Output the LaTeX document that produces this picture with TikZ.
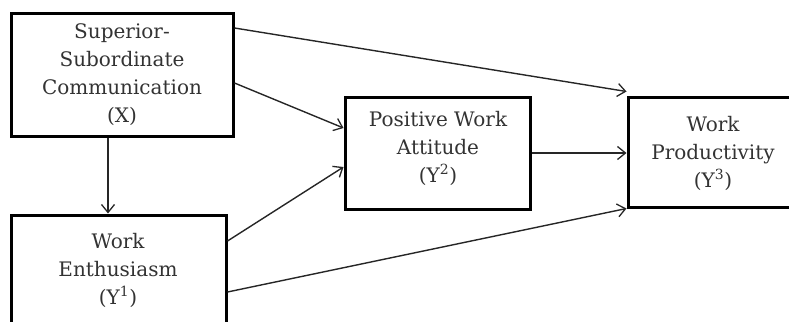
\documentclass[tikz,border=0pt]{standalone}
\usepackage{fontspec}
\setmainfont{DejaVu Serif}
\usetikzlibrary{arrows.meta}
\begin{document}
\begin{tikzpicture}[x=1pt,y=-1pt,
  box/.style={draw=black,line width=3pt,rectangle,inner sep=0pt},
  lbl/.style={align=center,text=black!80,font=\fontsize{20}{28}\selectfont,inner sep=0pt},
  conn/.style={draw=black!85,line width=1.4pt,-{Straight Barb[length=8pt,width=13pt,line width=1.3pt]}}]
\useasboundingbox (0,0) rectangle (789,321);
\clip (0,0) rectangle (789,321);
\node[box,minimum width=222pt,minimum height=122pt] (x) at (122,75) {};
\node[box,minimum width=215pt,minimum height=130pt] (y1) at (118.5,280) {};
\node[box,minimum width=185pt,minimum height=112pt] (y2) at (437.5,153) {};
\node[box,minimum width=192pt,minimum height=110pt] (y3) at (724,152) {};
\node[lbl] (xt) at (122,75) {Superior-\\Subordinate\\Communication\\(X)};
\node[lbl] (y1t) at (118,270) {Work\\Enthusiasm\\(Y\textsuperscript{1})};
\node[lbl] (y2t) at (438,148) {Positive Work\\Attitude\\(Y\textsuperscript{2})};
\node[lbl] (y3t) at (713,153) {Work\\Productivity\\(Y\textsuperscript{3})};
\draw[conn] ([yshift=47pt]x.east) -- ([yshift=4pt]y3.north west);
\draw[conn] ([yshift=-8pt]x.east) -- ([yshift=25pt]y2.west);
\draw[conn] ([xshift=-14pt]x.south) -- ([xshift=-14pt]x.south |- y1.north);
\draw[conn] ([yshift=39pt]y1.east) -- ([yshift=-14pt]y2.west);
\draw[conn] ([yshift=-12pt]y1.east) -- (y3.south west);
\draw[conn] (y2.east) -- (y2.east -| y3.west);
\end{tikzpicture}
\end{document}
